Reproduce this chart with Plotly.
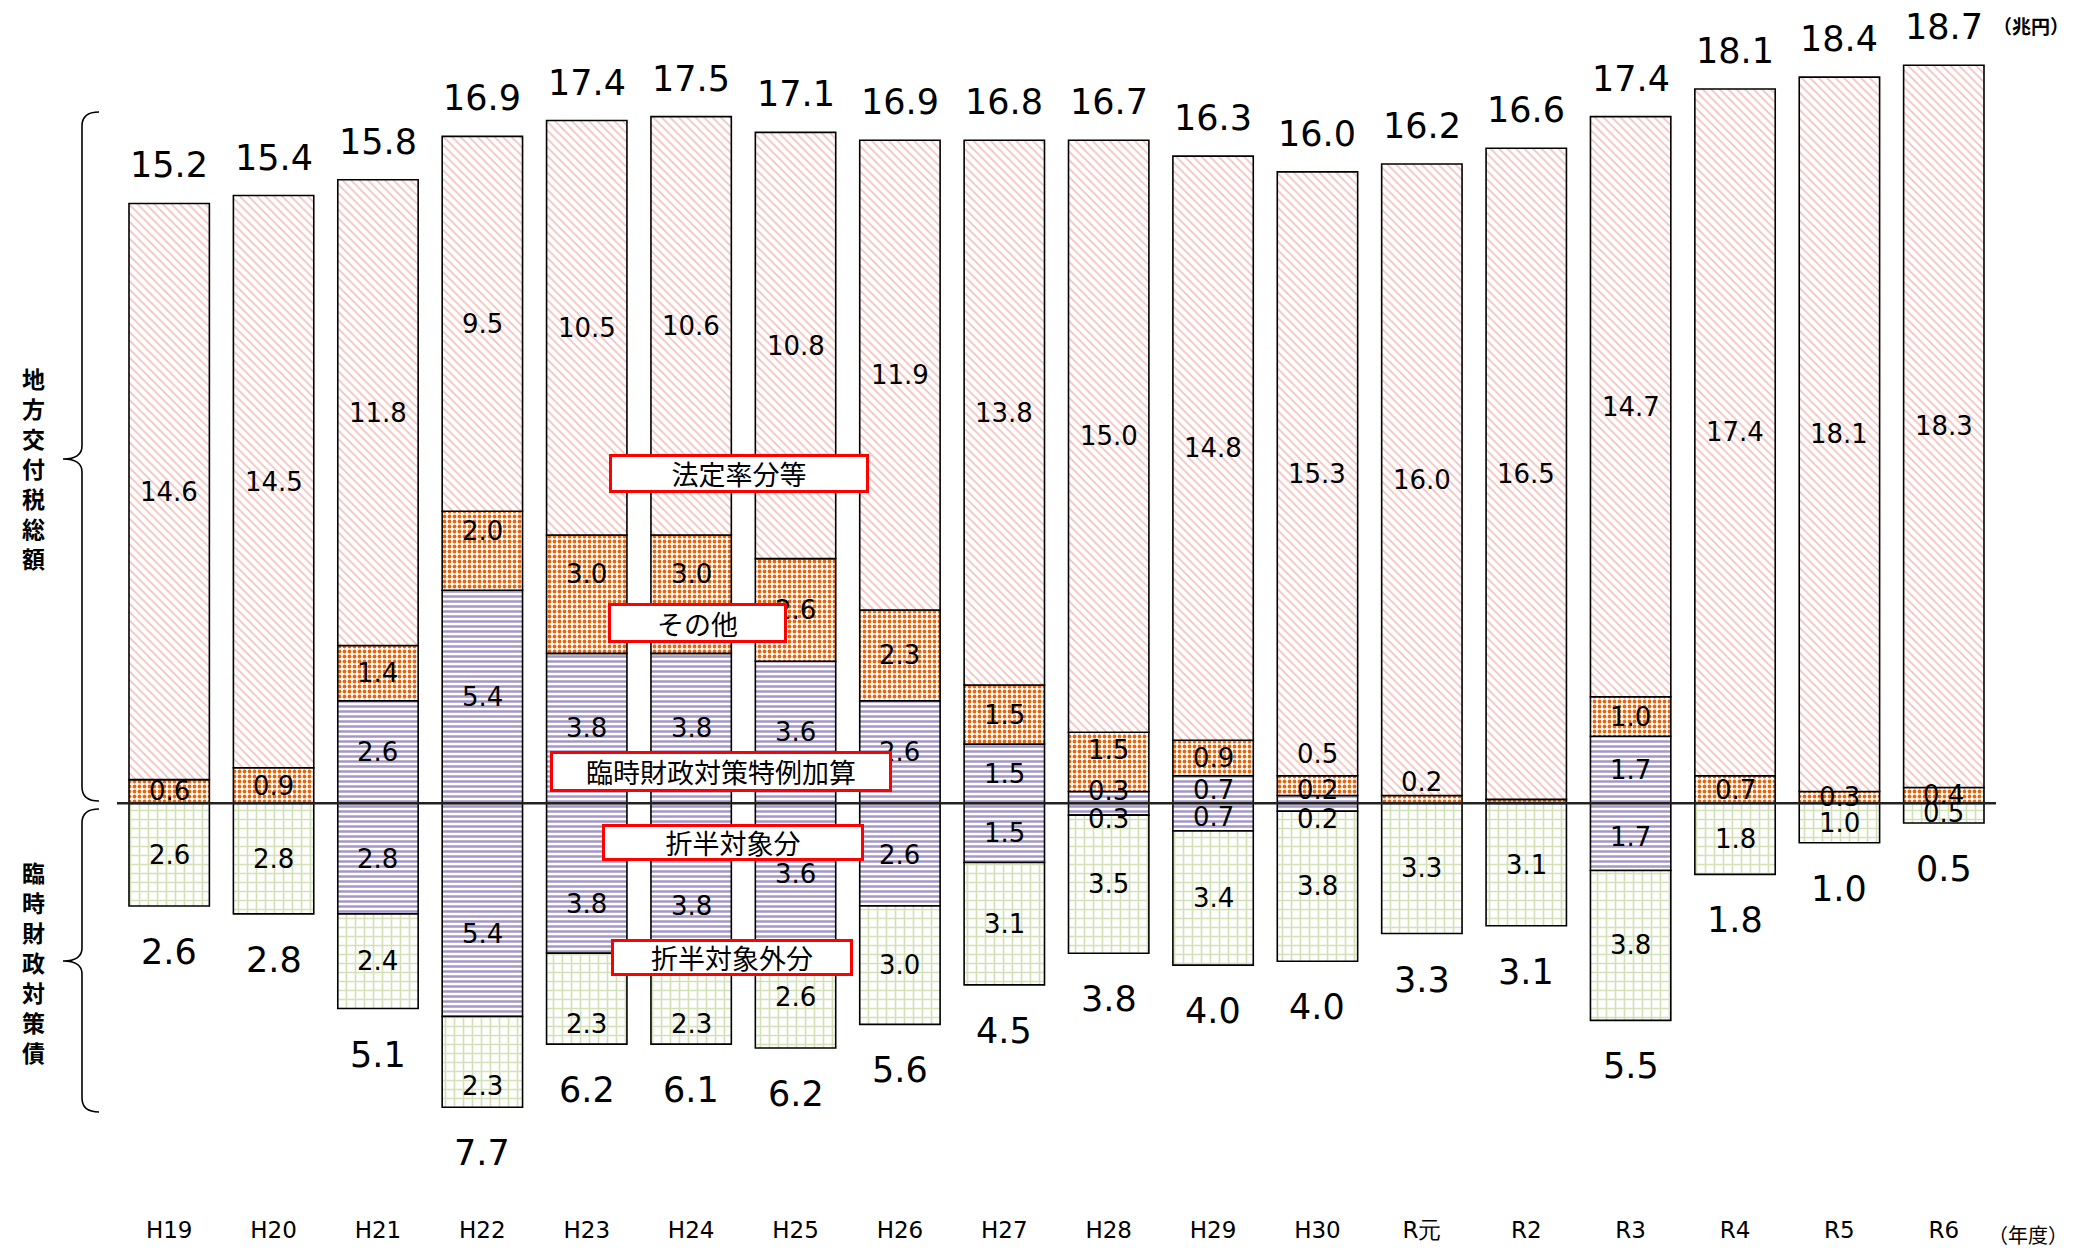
import plotly.graph_objects as go

# ---------------- data (兆円) ----------------
years = ["H19", "H20", "H21", "H22", "H23", "H24", "H25", "H26", "H27",
         "H28", "H29", "H30", "R元", "R2", "R3", "R4", "R5", "R6"]
houtei = [14.6, 14.5, 11.8, 9.5, 10.5, 10.6, 10.8, 11.9, 13.8,
          15.0, 14.8, 15.3, 16.0, 16.5, 14.7, 17.4, 18.1, 18.3]          # 法定率分等
sonota = [0.6, 0.9, 1.4, 2.0, 3.0, 3.0, 2.6, 2.3, 1.5,
          1.5, 0.9, 0.5, 0.2, 0.1, 1.0, 0.7, 0.3, 0.4]                   # その他
tokurei = [0, 0, 2.6, 5.4, 3.8, 3.8, 3.6, 2.6, 1.5,
           0.3, 0.7, 0.2, 0, 0, 1.7, 0, 0, 0]                            # 臨時財政対策特例加算
seppan = [0, 0, 2.8, 5.4, 3.8, 3.8, 3.6, 2.6, 1.5,
          0.3, 0.7, 0.2, 0, 0, 1.7, 0, 0, 0]                             # 折半対象分
seppan_gai = [2.6, 2.8, 2.4, 2.3, 2.3, 2.3, 2.6, 3.0, 3.1,
              3.5, 3.4, 3.8, 3.3, 3.1, 3.8, 1.8, 1.0, 0.5]               # 折半対象外分
total_kofu = [15.2, 15.4, 15.8, 16.9, 17.4, 17.5, 17.1, 16.9, 16.8,
              16.7, 16.3, 16.0, 16.2, 16.6, 17.4, 18.1, 18.4, 18.7]      # 地方交付税総額
total_rinzai = [2.6, 2.8, 5.1, 7.7, 6.2, 6.1, 6.2, 5.6, 4.5,
                3.8, 4.0, 4.0, 3.3, 3.1, 5.5, 1.8, 1.0, 0.5]             # 臨時財政対策債

# labels not shown for these (series, index)
hidden_labels = {("sonota", 13)}

# ---------------- layout geometry (page pixels) ----------------
PAGE_OFF = 8                       # default body margin of the html page
FW, FH = 2075 - PAGE_OFF, 1250 - PAGE_OFF
PLOT_L, PLOT_R, PLOT_T, PLOT_B = 117, 1996, 14, 1198
ML, MR = PLOT_L - PAGE_OFF, 2075 - PLOT_R
MT, MB = PLOT_T - PAGE_OFF, 1250 - PLOT_B
PW, PH = PLOT_R - PLOT_L, PLOT_B - PLOT_T

NUM_FONT = "Verdana, DejaVu Sans, sans-serif"
JP_FONT = "Noto Sans CJK JP, sans-serif"
BAR_W = 0.77


def pxx(x):
    return (x - PLOT_L) / PW


def pxy(y):
    return (PLOT_B - y) / PH


# label offsets (data units) for crowded segments
label_offset = {
    ("sonota", 3): 0.5, ("sonota", 4): 0.5, ("sonota", 5): 0.5,
    ("seppan", 3): -0.6, ("seppan_gai", 3): -0.6,
    ("seppan", 4): -0.65, ("seppan_gai", 4): -0.65,
    ("seppan", 5): -0.7, ("seppan_gai", 5): -0.65,
    ("sonota", 9): 0.3, ("tokurei", 9): 0.15, ("seppan", 9): -0.25,
    ("sonota", 11): 0.8, ("tokurei", 11): 0.23, ("seppan", 11): -0.3,
    ("sonota", 12): 0.45,
}

styles = {
    "tokurei": dict(shape="-", fgcolor="#a496c8", size=5, solidity=0.5),
    "sonota": dict(shape=".", fgcolor="#e8650a", size=5, solidity=0.45),
    "houtei": dict(shape="\\", fgcolor="#f2c2be", size=6, solidity=0.3),
    "seppan": dict(shape="-", fgcolor="#a496c8", size=5, solidity=0.5),
    "seppan_gai": dict(shape="+", fgcolor="#d3e2b6", size=9, solidity=0.33),
}

series = [
    ("tokurei", tokurei, 1),
    ("sonota", sonota, 1),
    ("houtei", houtei, 1),
    ("seppan", seppan, -1),
    ("seppan_gai", seppan_gai, -1),
]

xs = list(range(len(years)))
fig = go.Figure()
annotations = []
pos_base = [0.0] * len(years)
neg_base = [0.0] * len(years)

for name, vals, sign in series:
    st = styles[name]
    yv = [sign * v if v else None for v in vals]
    fig.add_trace(go.Bar(
        x=xs, y=yv, width=BAR_W,
        marker=dict(color="white", line=dict(color="black", width=1.6),
                    pattern=dict(shape=st["shape"], fgcolor=st["fgcolor"], bgcolor="white",
                                 size=st["size"], solidity=st["solidity"], fillmode="replace")),
        hoverinfo="skip", showlegend=False,
    ))
    for i, v in enumerate(vals):
        if not v:
            continue
        base = pos_base if sign > 0 else neg_base
        mid = base[i] + sign * v / 2
        base[i] += sign * v
        if (name, i) in hidden_labels:
            continue
        annotations.append(dict(
            x=i, y=mid + label_offset.get((name, i), 0), xref="x", yref="y",
            text=f"{v:.1f}", showarrow=False, xanchor="center", yanchor="middle",
            font=dict(family=NUM_FONT, size=26, color="black"),
        ))

# totals
for i in xs:
    annotations.append(dict(x=i, y=pos_base[i], xref="x", yref="y", yshift=38,
                            xanchor="center", yanchor="middle",
                            text=f"{total_kofu[i]:.1f}", showarrow=False,
                            font=dict(family=NUM_FONT, size=35, color="black")))
    annotations.append(dict(x=i, y=neg_base[i], xref="x", yref="y", yshift=-46,
                            xanchor="center", yanchor="middle",
                            text=f"{total_rinzai[i]:.1f}", showarrow=False,
                            font=dict(family=NUM_FONT, size=35, color="black")))

# legend-like labelled boxes (page pixel centre, size)
boxes = [
    ("法定率分等", 739, 474, 260, 39),
    ("その他", 697, 623, 179, 40),
    ("臨時財政対策特例加算", 721, 771, 342, 41),
    ("折半対象分", 733, 842, 262, 37),
    ("折半対象外分", 732, 957, 242, 37),
]
for txt, cx, cy, bw, bh in boxes:
    annotations.append(dict(
        x=pxx(cx), y=pxy(cy), xref="paper", yref="paper", text=txt, showarrow=False,
        xanchor="center", yanchor="middle",
        width=bw - 6, height=bh - 6, bgcolor="white", bordercolor="#ff0000",
        borderwidth=3, borderpad=0,
        font=dict(family=JP_FONT, size=27, color="black"),
    ))

# side labels, one character per line
for txt, cy in [("地方交付税総額", 468), ("臨時財政対策債", 962)]:
    n = len(txt)
    for k, ch in enumerate(txt):
        annotations.append(dict(
            x=pxx(33), y=pxy(cy + (k - (n - 1) / 2) * 30), xref="paper", yref="paper",
            xanchor="center", yanchor="middle",
            text=f"<b>{ch}</b>", showarrow=False,
            font=dict(family=JP_FONT, size=23, color="black", weight=700),
        ))

annotations.append(dict(x=pxx(2031), y=pxy(26), xref="paper", yref="paper",
                        xanchor="center", yanchor="middle",
                        text="<b>（兆円）</b>", showarrow=False,
                        font=dict(family=JP_FONT, size=19, color="black")))
annotations.append(dict(x=pxx(2028), y=pxy(1234), xref="paper", yref="paper",
                        xanchor="center", yanchor="middle",
                        text="（年度）", showarrow=False,
                        font=dict(family=JP_FONT, size=20, color="black")))


def brace(top, tip, bottom, xv=82, xh=99, xt=63):
    pts = [
        ("M", [(xh, top)]),
        ("Q", [(xv, top), (xv, top + 14)]),
        ("L", [(xv, tip - 13)]),
        ("Q", [(xv, tip), (xt, tip)]),
        ("Q", [(xv, tip), (xv, tip + 13)]),
        ("L", [(xv, bottom - 14)]),
        ("Q", [(xv, bottom), (xh, bottom)]),
    ]
    s = ""
    for cmd, ps in pts:
        s += cmd + " " + " ".join(f"{pxx(a):.5f},{pxy(b):.5f}" for a, b in ps) + " "
    return s.strip()


shapes = [
    dict(type="path", xref="paper", yref="paper", path=brace(112, 459, 801),
         line=dict(color="black", width=1.6)),
    dict(type="path", xref="paper", yref="paper", path=brace(809, 961, 1112),
         line=dict(color="black", width=1.6)),
    dict(type="line", xref="paper", yref="y", x0=0, x1=1, y0=0, y1=0,
         line=dict(color="#222222", width=2.5), layer="above"),
]

fig.update_layout(
    width=FW, height=FH, barmode="relative",
    margin=dict(l=ML, r=MR, t=MT, b=MB, autoexpand=False),
    plot_bgcolor="white", paper_bgcolor="white",
    xaxis=dict(range=[-0.5, len(years) - 0.5], tickvals=xs, ticktext=years,
               showgrid=False, zeroline=False, showline=False, ticks="",
               tickfont=dict(family=NUM_FONT, size=23, color="black"),
               ticklabelstandoff=16),
    yaxis=dict(range=[-10, 20], visible=False, showgrid=False, zeroline=False),
    annotations=annotations, shapes=shapes,
)

fig.write_html("out.html")
